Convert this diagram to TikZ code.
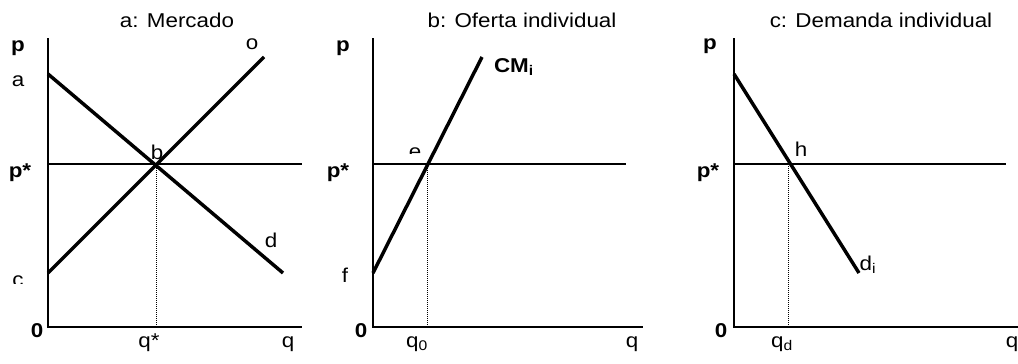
\documentclass[tikz,border=0pt]{standalone}
\usepackage{fontspec}
\setmainfont[FakeStretch=1.12]{Liberation Sans}
\begin{document}
\begin{tikzpicture}[
x=0.75pt, y=-0.75pt,
every node/.style={inner sep=0pt, anchor=base, font=\fontsize{15}{18}\selectfont},
bold/.style={font=\fontsize{15}{18}\selectfont\bfseries},
axis/.style={line width=1.4pt},
price/.style={line width=1.2pt},
curve/.style={line width=2.6pt},
guide/.style={line width=0.75pt, dash pattern=on 0.75pt off 0.75pt}
]
\useasboundingbox (0,0) rectangle (1018,364);

% a: Mercado
\node (ta) at (177,27) {a: Mercado};
\coordinate (ya) at (48,38);
\coordinate (oa) at (48,327);
\coordinate (xa) at (302,327);
\coordinate (pa1) at (48,164);
\coordinate (pa2) at (302,164);
\coordinate (da1) at (48,74);
\coordinate (da2) at (283,273);
\coordinate (sa1) at (48,273);
\coordinate (sa2) at (264,57);
\coordinate (b) at (156,164);
\coordinate (qa) at (156,327);
\draw[axis] (ya) -- (oa) -- (xa);
\draw[price] (pa1) -- (pa2);
\draw[curve] (da1) -- (da2);
\draw[curve] (sa1) -- (sa2);
\draw[guide] (b) -- (qa);
\node[bold] (pa) at (18,51) {p};
\node (la) at (18,86) {a};
\node[bold] (psa) at (20,177) {p*};
\begin{scope}
\clip (0,250) rectangle (40,283);
\node (lc) at (18,286) {c};
\end{scope}
\node[bold] (za) at (37,337) {0};
\node (qsa) at (149,347) {q*};
\node (qqa) at (288,347) {q};
\node (lo) at (252,50) {o};
\node (lb) at (157,159) {b};
\node (ld) at (271,247) {d};

% b: Oferta individual
\node (tb) at (522,27) {b: Oferta individual};
\coordinate (yb) at (373,38);
\coordinate (ob) at (373,327);
\coordinate (xb) at (643,327);
\coordinate (pb1) at (373,164);
\coordinate (pb2) at (626,164);
\coordinate (cb1) at (373,273);
\coordinate (cb2) at (482,57);
\coordinate (e) at (427,164);
\coordinate (qb) at (427,327);
\draw[axis] (yb) -- (ob) -- (xb);
\draw[price] (pb1) -- (pb2);
\draw[curve] (cb1) -- (cb2);
\draw[guide] (e) -- (qb);
\node[bold] (pb) at (343,51) {p};
\node[bold] (psb) at (338,177) {p*};
\node (lf) at (345,282) {f};
\node[bold] (zb) at (361,337) {0};
\node (qzb) at (417,347) {q\textsubscript{0}};
\node (qqb) at (632,347) {q};
\begin{scope}
\clip (390,140) rectangle (440,153);
\node (le) at (415,158) {e};
\end{scope}
\node[bold] (lcm) at (514,72) {CM\textsubscript{i}};

% c: Demanda individual
\node (tc) at (881,27) {c: Demanda individual};
\coordinate (yc) at (734,38);
\coordinate (oc) at (734,327);
\coordinate (xc) at (1018,327);
\coordinate (pc1) at (734,164);
\coordinate (pc2) at (1006,164);
\coordinate (dc1) at (734,74);
\coordinate (dc2) at (859,273);
\coordinate (h) at (788,164);
\coordinate (qc) at (788,327);
\draw[axis] (yc) -- (oc) -- (xc);
\draw[price] (pc1) -- (pc2);
\draw[curve] (dc1) -- (dc2);
\draw[guide] (h) -- (qc);
\node[bold] (pc) at (710,50) {p};
\node[bold] (psc) at (708,177) {p*};
\node[bold] (zc) at (721,337) {0};
\node (qdc) at (782,347) {q\textsubscript{d}};
\node (qqc) at (1012,347) {q};
\node (lh) at (801,156) {h};
\node (ldi) at (868,270) {d\textsubscript{i}};
\end{tikzpicture}
\end{document}
